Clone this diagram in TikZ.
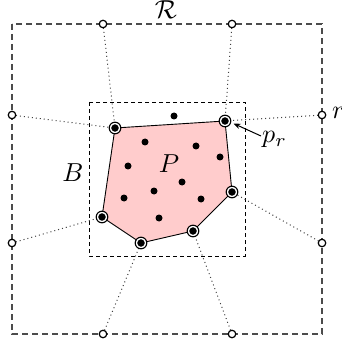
\documentclass[tikz,border=0pt]{standalone}
\usetikzlibrary{arrows.meta}
\newcommand{\biglab}[1]{\scalebox{2.6}{$#1$}}
\begin{document}
\begin{tikzpicture}[x=1pt,y=-1pt,
  outerbox/.style={draw=black!70,line width=1.2pt,dash pattern=on 6pt off 4pt},
  innerbox/.style={draw=black,line width=0.8pt,dash pattern=on 4pt off 3pt},
  dotline/.style={draw=black!75,line width=1pt,dash pattern=on 1pt off 3pt},
  hullline/.style={draw=black,line width=0.9pt},
  hullfill/.style={fill=red!20},
  opendot/.style={circle,draw=black,fill=white,line width=1.2pt,minimum size=7.5pt,inner sep=0pt},
  soliddot/.style={circle,fill=black,minimum size=7pt,inner sep=0pt},
  hulldot/.style={circle,fill=black,draw=white,line width=1.6pt,minimum size=9.5pt,inner sep=0pt,
    append after command={node[circle,draw=black,line width=1.1pt,minimum size=11.6pt,inner sep=0pt] at (\tikzlastnode.center) {}}},
  lab/.style={inner sep=0pt}
]
\useasboundingbox (0,0) rectangle (341,347);
% coordinates
\coordinate (o1) at (103,24);
\coordinate (o2) at (232,24);
\coordinate (o3) at (322,115);
\coordinate (o4) at (322,243);
\coordinate (o5) at (232,334);
\coordinate (o6) at (103,334);
\coordinate (o7) at (12,243);
\coordinate (o8) at (12,115);
\coordinate (h1) at (115,128);
\coordinate (h2) at (225,121);
\coordinate (h3) at (232,192);
\coordinate (h4) at (193,231);
\coordinate (h5) at (141,243);
\coordinate (h6) at (102,217);
% outer region
\draw[outerbox] (12,24) rectangle (322,334);
% inner box B
\draw[innerbox] (89,102) rectangle (245,256);
% hull
\fill[hullfill] (h1) -- (h2) -- (h3) -- (h4) -- (h5) -- (h6) -- cycle;
\draw[hullline] (h1) -- (h2) -- (h3) -- (h4) -- (h5) -- (h6) -- cycle;
% dotted connectors
\draw[dotline] (o1) -- (h1);
\draw[dotline] (o8) -- (h1);
\draw[dotline] (o2) -- (h2);
\draw[dotline] (o3) -- (h2);
\draw[dotline] (o4) -- (h3);
\draw[dotline] (o5) -- (h4);
\draw[dotline] (o6) -- (h5);
\draw[dotline] (o7) -- (h6);
% outer points
\foreach \n in {o1,o2,o3,o4,o5,o6,o7,o8} \node[opendot] (n\n) at (\n) {};
% interior points
\node[soliddot] (p1) at (174,116) {};
\node[soliddot] (p2) at (145,142) {};
\node[soliddot] (p3) at (196,146) {};
\node[soliddot] (p4) at (220,157) {};
\node[soliddot] (p5) at (128,166) {};
\node[soliddot] (p6) at (182,182) {};
\node[soliddot] (p7) at (154,191) {};
\node[soliddot] (p8) at (124,198) {};
\node[soliddot] (p9) at (201,199) {};
\node[soliddot] (p10) at (159,218) {};
% hull points
\foreach \n in {h1,h2,h3,h4,h5,h6} \node[hulldot] (n\n) at (\n) {};
% labels
\node[lab,anchor=base] (Rlab) at (166,19) {\biglab{\mathcal{R}}};
\node[lab,anchor=base] (Blab) at (73,181) {\biglab{B}};
\node[lab,anchor=base] (Plab) at (169,172) {\biglab{P}};
\node[lab,anchor=base west] (rlab) at (332,119) {\biglab{r}};
\node[lab,anchor=base west] (prlab) at (262,143) {\biglab{p_r}};
\coordinate (prtail) at ([shift={(-1,-7)}]prlab.base west);
\draw[line width=1pt,-{Stealth[length=7pt,width=5.5pt]}] (prtail) -- ([shift={(8.5,2.5)}]nh2.center);
\end{tikzpicture}
\end{document}
